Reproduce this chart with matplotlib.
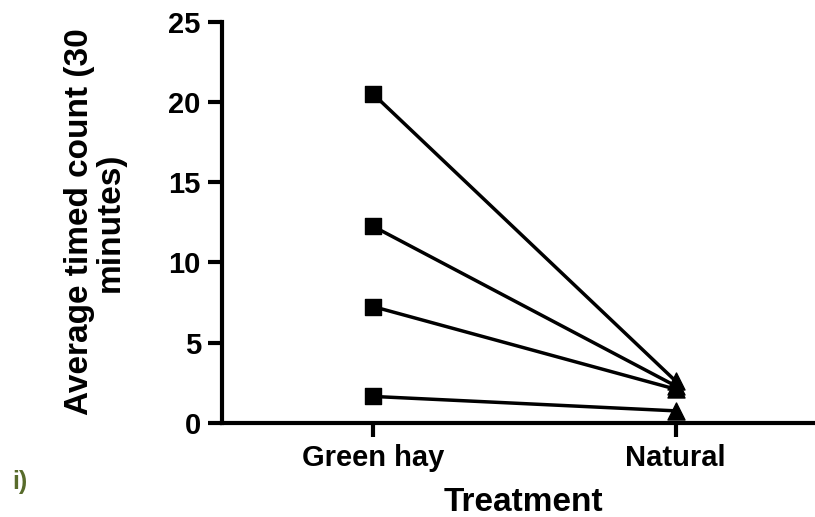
import matplotlib
matplotlib.use("Agg")
import matplotlib.pyplot as plt

plt.rcParams['font.family'] = ['Liberation Sans', 'DejaVu Sans']
plt.rcParams['font.weight'] = 'bold'

# treatments and paired counts per site
treatments = ["Green hay", "Natural"]
green_hay = [20.5, 12.25, 7.25, 1.65]
natural = [2.6, 2.3, 2.1, 0.75]
yticks = [0, 5, 10, 15, 20, 25]

fig = plt.figure(figsize=(8.15, 5.17), dpi=100)
ax = fig.add_axes([0.272, 0.182, 0.728, 0.776])

xpos = [0, 1]
for a, b in zip(green_hay, natural):
    ax.plot(xpos, [a, b], color='black', lw=2.5, zorder=2)
ax.scatter([0] * len(green_hay), green_hay, marker='s', s=130, color='black', zorder=3)
ax.scatter([1] * len(natural), natural, marker='^', s=150, color='black', zorder=3)

ax.set_xlim(-0.5, 1.46)
ax.set_ylim(0, 25)
ax.set_xticks(xpos)
ax.set_xticklabels(treatments)
ax.set_yticks(yticks)

for side in ['top', 'right']:
    ax.spines[side].set_visible(False)
for side in ['left', 'bottom']:
    ax.spines[side].set_linewidth(3)
ax.tick_params(axis='both', width=3, length=10, labelsize=21, pad=5)

# axis titles placed by hand to match the original layout
fig.text(523 / 815, 1 - 511 / 517, "Treatment", fontsize=24, fontweight='bold',
         ha='center', va='baseline')
fig.text(95 / 815, 1 - 222 / 517, "Average timed count (30\nminutes)", fontsize=24,
         fontweight='bold', rotation=90, ha='center', va='center', multialignment='center',
         linespacing=1.0)

fig.text(12 / 815, 1 - 489 / 517, "i)", color='#586b2b', fontsize=18, fontweight='bold',
         va='baseline')

fig.savefig("out.png", dpi=100)
